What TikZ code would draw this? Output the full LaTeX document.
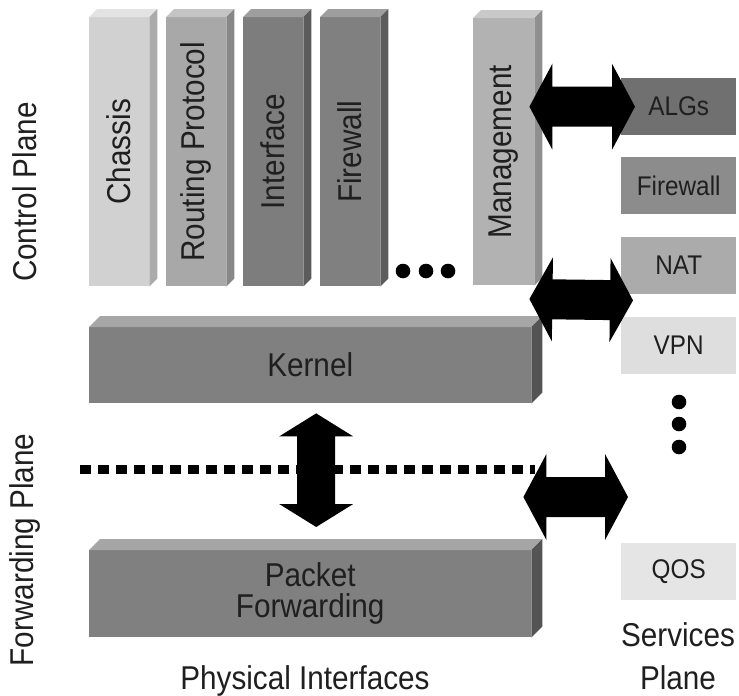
\documentclass[tikz,border=0pt]{standalone}
\usepackage{fontspec}
\setmainfont{Liberation Sans}[FakeStretch=0.9]
\usetikzlibrary{calc}
\tikzset{
    plane/.style={font=\fontsize{33}{43}\selectfont, text=black!88},
    column/.style={anchor=north west, minimum width=60pt, minimum height=269pt, inner sep=0pt},
    slab/.style={anchor=north west, minimum width=442pt, inner sep=0pt, align=center,
        font=\fontsize{33}{31}\selectfont, text=black!88},
    svc/.style={anchor=north west, minimum width=115pt, minimum height=57pt, inner sep=0pt,
        font=\fontsize{27}{30}\selectfont, text=black!88},
    fatarrow/.style 2 args={to path={
        let \p1=($(\tikztostart)!23pt!(\tikztotarget)$), \p2=($(\tikztotarget)!23pt!(\tikztostart)$) in
        -- ($(\p1)!#1!90:(\tikztotarget)$) -- ($(\p1)!#2!90:(\tikztotarget)$)
        -- ($(\p2)!#2!-90:(\tikztostart)$) -- ($(\p2)!#1!-90:(\tikztostart)$)
        -- (\tikztotarget)
        -- ($(\p2)!#1!90:(\tikztostart)$) -- ($(\p2)!#2!90:(\tikztostart)$)
        -- ($(\p1)!#2!-90:(\tikztotarget)$) -- ($(\p1)!#1!-90:(\tikztotarget)$)
        -- cycle}}
}

\begin{document}
\begin{tikzpicture}[x=1pt, y=-1pt]
\useasboundingbox (0,0) rectangle (739,696);
% Nodes
\node[svc, fill=black!56] (algs) at (621,78) {ALGs};
\node[svc, fill=black!45] (svcfw) at (621,157) {Firewall};
\node[svc, fill=black!33] (nat) at (621,237) {NAT};
\node[svc, fill=black!13] (vpn) at (621,317) {VPN};
\node[svc, fill=black!10] (qos) at (621,543) {QOS};

\node[column, fill=black!18, label={[plane, rotate=90]center:Chassis}] (chassis) at (89,17) {};
\node[column, fill=black!34, label={[plane, rotate=90]center:Routing Protocol}] (routing) at (166,17) {};
\node[column, fill=black!51, label={[plane, rotate=90]center:Interface}] (iface) at (243,17) {};
\node[column, fill=black!50, label={[plane, rotate=90]center:Firewall}] (fwall) at (320,17) {};
\node[column, fill=black!30, minimum width=61pt, minimum height=267pt,
    label={[plane, rotate=90]center:Management}] (mgmt) at (473,18) {};

\node[slab, fill=black!50, minimum height=76pt] (kernel) at (89,327) {Kernel};
\node[slab, fill=black!50, minimum height=87pt] (packet) at (89,550) {Packet\\Forwarding};

% 3D faces
\foreach \b/\d/\ct/\cs in {chassis/8/black!11/black!33, routing/8/black!23/black!47,
    iface/8/black!38/black!64, fwall/8/black!38/black!64, mgmt/8/black!21/black!44,
    kernel/11/black!35/black!67, packet/11/black!35/black!67}{
  \fill[\ct] (\b.north west) -- ++(\d,-\d) -- ($(\b.north east)+(\d,-\d)$) -- (\b.north east) -- cycle;
  \fill[\cs] (\b.north east) -- ++(\d,-\d) -- ($(\b.south east)+(\d,-\d)$) -- (\b.south east) -- cycle;
}

% Plane labels
\node[plane, rotate=90] (ctrlplane) at (25,192) {Control Plane};
\node[plane, rotate=90] (fwdplane) at (25,550) {Forwarding Plane};
\node[plane, anchor=base] (physif) at (305,689) {Physical Interfaces};
\node[plane, align=center] (svcplane) at (678,656) {Services\\Plane};

% Divider
\draw[line width=9pt, dash pattern=on 11pt off 7pt] (80,469) -- (535,469);

% Arrows
\coordinate (topL) at ($(mgmt.east |- algs.west)+(-5,0)$);
\coordinate (topR) at ($(algs.west)+(14,0)$);
\coordinate (midL) at ($(kernel.north east)+(-2,-28)$);
\coordinate (midR) at ($(nat.south west)+(12,6)$);
\coordinate (lowL) at ($(packet.north east)+(-8,-53)$);
\coordinate (lowR) at ($(qos.north west)+(7,-46)$);
\coordinate (vertT) at ($(kernel.south)+(6,10)$);
\coordinate (vertB) at ($(packet.north)+(6,-23)$);
\fill (topL) to[fatarrow={43pt}{20pt}] (topR);
\fill (midL) to[fatarrow={42pt}{20pt}] (midR);
\fill (lowL) to[fatarrow={43pt}{20pt}] (lowR);
\fill (vertT) to[fatarrow={37pt}{19pt}] (vertB);

% Dots
\foreach \x in {403,426,448}
  \fill (\x,271) circle (7.3pt);
\foreach \y in {402,424,447}
  \fill (679,\y) circle (7.3pt);
\end{tikzpicture}
\end{document}
